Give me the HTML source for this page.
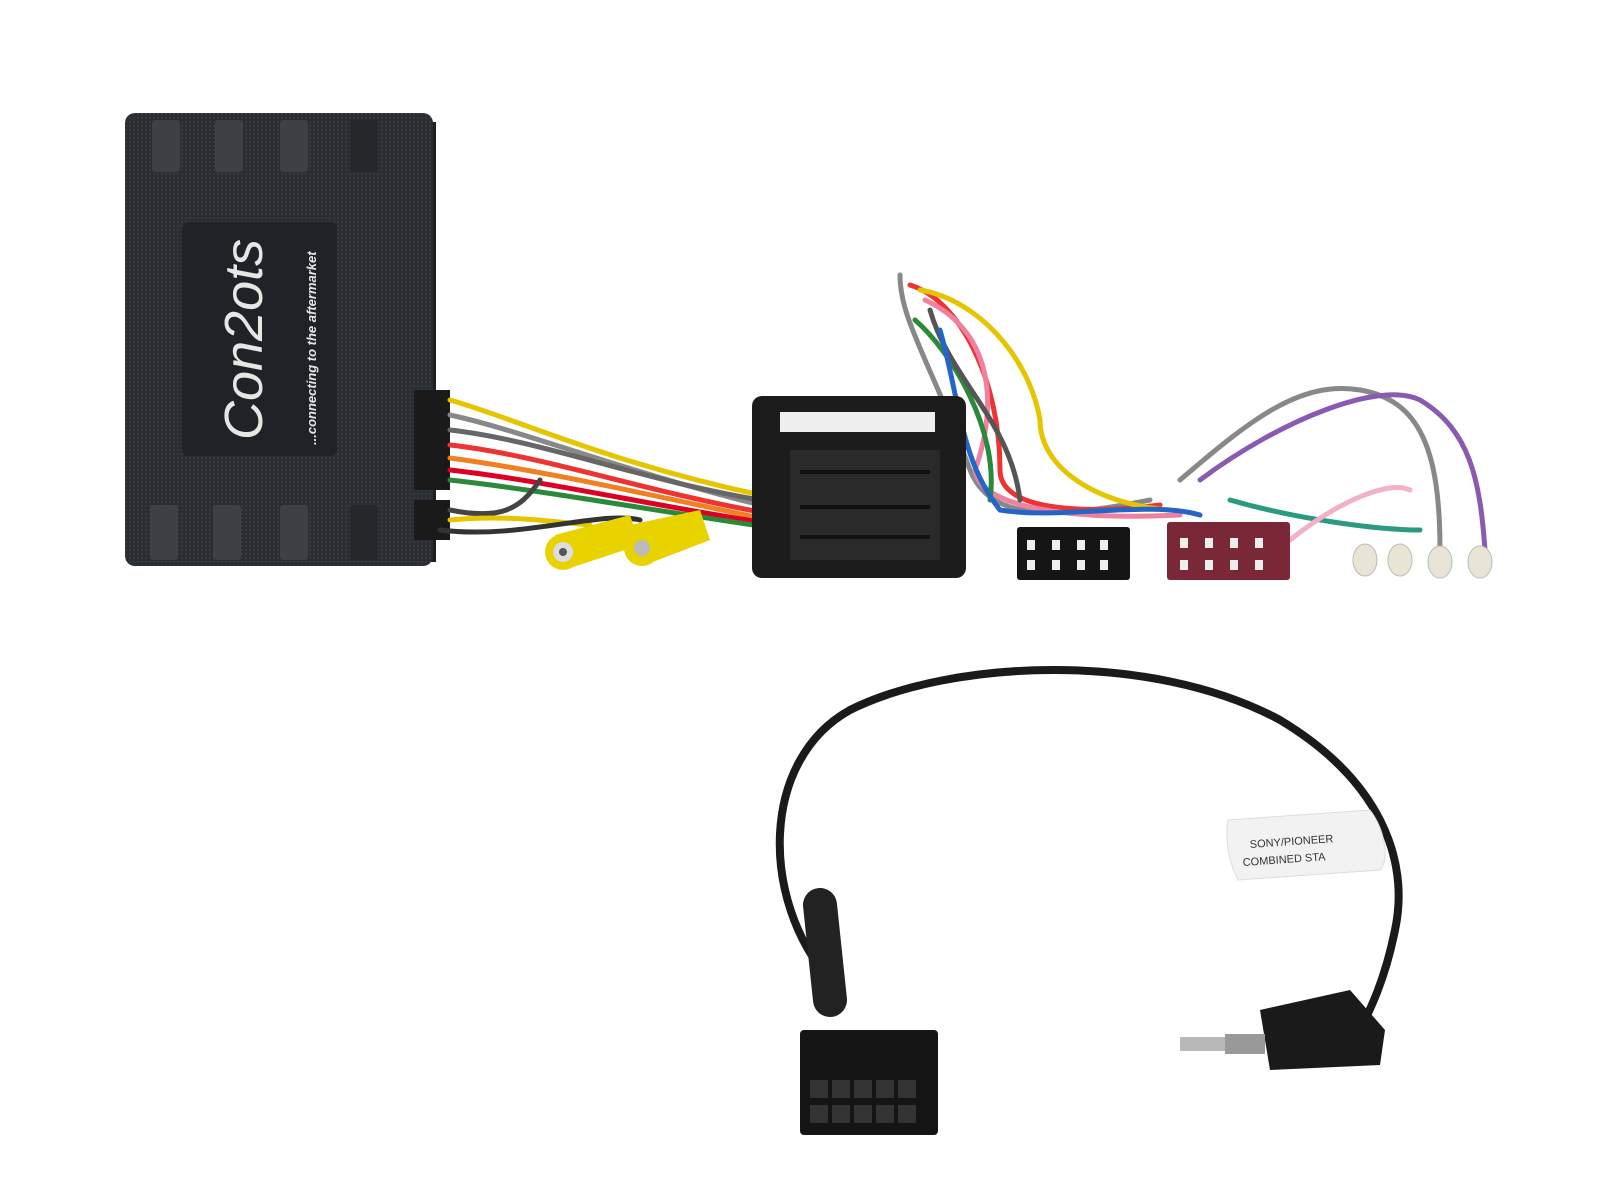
<!DOCTYPE html>
<html><head><meta charset="utf-8"><style>
html,body{margin:0;padding:0;background:#fff;width:1600px;height:1200px;overflow:hidden}
svg{display:block}
text{font-family:"Liberation Sans",sans-serif}
</style></head><body>
<svg width="1600" height="1200" viewBox="0 0 1600 1200" xmlns="http://www.w3.org/2000/svg">
<defs>
<pattern id="tex" width="4" height="4" patternUnits="userSpaceOnUse">
<rect width="4" height="4" fill="#2a2d31"/><circle cx="2" cy="2" r="1" fill="#3a3e43"/>
</pattern>
</defs>
<rect x="424" y="122" width="12" height="440" fill="#1d1f22"/>
<rect x="125" y="113" width="308" height="453" rx="10" fill="url(#tex)"/>
<g fill="#3d4146">
<rect x="152" y="120" width="28" height="52" rx="3"/><rect x="215" y="120" width="28" height="52" rx="3"/><rect x="280" y="120" width="28" height="52" rx="3"/><rect x="350" y="120" width="28" height="52" rx="3" fill="#25282b"/>
<rect x="150" y="505" width="28" height="55" rx="3"/><rect x="213" y="505" width="28" height="55" rx="3"/><rect x="280" y="505" width="28" height="55" rx="3"/><rect x="350" y="505" width="28" height="55" rx="3" fill="#25282b"/>
</g>
<rect x="182" y="222" width="155" height="234" rx="6" fill="#1f2226"/>
<text transform="translate(262,440) rotate(-90)" font-family="Liberation Serif,serif" font-style="italic" font-size="54" fill="#e6e6e6">Con2ots</text>
<text transform="translate(316,445) rotate(-90)" font-family="Liberation Serif,serif" font-style="italic" font-weight="bold" font-size="13" fill="#e6e6e6">...connecting to the aftermarket</text>
<rect x="414" y="390" width="36" height="100" fill="#1a1a1a"/>
<rect x="414" y="500" width="36" height="40" fill="#1a1a1a"/>
<g fill="none" stroke-width="5" stroke-linecap="round">
<path d="M450 400 C520 420 600 460 760 495" stroke="#e6c400"/>
<path d="M450 415 C520 430 620 470 760 505" stroke="#888"/>
<path d="M450 430 C540 440 640 480 760 500" stroke="#666"/>
<path d="M450 445 C540 455 640 490 760 512" stroke="#e33"/>
<path d="M450 458 C540 470 650 495 760 518" stroke="#f08020"/>
<path d="M450 470 C540 480 650 505 760 522" stroke="#d02"/>
<path d="M450 480 C540 490 650 510 760 526" stroke="#2a8a3a"/>
<path d="M450 510 C500 520 520 510 540 480" stroke="#444"/>
<path d="M450 520 C500 515 540 520 590 525" stroke="#e6c400"/>
<path d="M440 530 C520 540 600 510 640 520" stroke="#333"/>
<path d="M900 275 C900 320 930 360 970 470 C990 520 1050 520 1150 500" stroke="#888"/>
<path d="M910 285 C960 300 1000 380 1000 470 C1000 510 1080 515 1160 505" stroke="#e33"/>
<path d="M920 290 C980 300 1030 360 1040 420 C1040 470 1100 505 1170 510" stroke="#e6c400"/>
<path d="M925 300 C990 330 1000 400 975 470 C980 510 1080 520 1180 515" stroke="#f080a0"/>
<path d="M915 320 C950 350 1000 430 990 500" stroke="#2a8a3a"/>
<path d="M930 310 C950 380 1010 420 1020 500" stroke="#555"/>
<path d="M940 330 C960 400 960 460 1000 510 C1060 520 1150 500 1200 515" stroke="#2466c8"/>
<path d="M1180 480 C1250 420 1300 380 1360 390 C1420 400 1440 450 1440 550" stroke="#888"/>
<path d="M1200 480 C1280 420 1380 380 1420 400 C1470 430 1480 480 1485 550" stroke="#8a5ab0"/>
<path d="M1230 500 C1300 520 1380 530 1420 530" stroke="#2a9a80"/>
<path d="M1290 540 C1340 500 1390 480 1410 490" stroke="#f4b0c8"/>
</g>
<g>
<polygon points="555,535 630,515 640,545 570,568" fill="#e8d200"/>
<polygon points="630,525 700,510 710,540 645,565" fill="#e8d200"/>
<circle cx="563" cy="552" r="18" fill="#e8d200"/><circle cx="563" cy="552" r="10" fill="#ddd"/><circle cx="563" cy="552" r="4" fill="#555"/>
<circle cx="642" cy="548" r="18" fill="#e8d200"/><circle cx="642" cy="548" r="8" fill="#bbb"/>
</g>
<rect x="752" y="396" width="214" height="182" rx="10" fill="#1c1c1c"/>
<rect x="780" y="412" width="155" height="20" fill="#eee"/>
<rect x="790" y="450" width="150" height="110" fill="#2a2a2a"/>
<g fill="#111"><rect x="800" y="470" width="130" height="4"/><rect x="800" y="505" width="130" height="4"/><rect x="800" y="535" width="130" height="4"/></g>
<rect x="1017" y="527" width="113" height="53" rx="3" fill="#151515"/>
<g fill="#eee"><rect x="1027" y="540" width="8" height="10"/><rect x="1052" y="540" width="8" height="10"/><rect x="1077" y="540" width="8" height="10"/><rect x="1100" y="540" width="8" height="10"/>
<rect x="1027" y="560" width="8" height="10"/><rect x="1052" y="560" width="8" height="10"/><rect x="1077" y="560" width="8" height="10"/><rect x="1100" y="560" width="8" height="10"/></g>
<rect x="1167" y="522" width="123" height="58" rx="3" fill="#7a2838"/>
<g fill="#eee"><rect x="1180" y="538" width="8" height="10"/><rect x="1205" y="538" width="8" height="10"/><rect x="1230" y="538" width="8" height="10"/><rect x="1255" y="538" width="8" height="10"/>
<rect x="1180" y="560" width="8" height="10"/><rect x="1205" y="560" width="8" height="10"/><rect x="1230" y="560" width="8" height="10"/><rect x="1255" y="560" width="8" height="10"/></g>
<g fill="#e8e4d6" stroke="#bbb"><ellipse cx="1365" cy="560" rx="12" ry="16"/><ellipse cx="1400" cy="560" rx="12" ry="16"/><ellipse cx="1440" cy="562" rx="12" ry="16"/><ellipse cx="1480" cy="562" rx="12" ry="16"/></g>
<path d="M830 980 C760 900 760 760 850 710 C950 660 1150 650 1280 720 C1380 780 1410 860 1395 930 C1385 980 1370 1010 1360 1030" fill="none" stroke="#1a1a1a" stroke-width="8"/>
<path d="M820 905 L830 1000" stroke="#222" stroke-width="34" stroke-linecap="round"/>
<rect x="800" y="1030" width="138" height="105" rx="4" fill="#151515"/>
<g fill="#333"><rect x="810" y="1080" width="18" height="18"/><rect x="832" y="1080" width="18" height="18"/><rect x="854" y="1080" width="18" height="18"/><rect x="876" y="1080" width="18" height="18"/><rect x="898" y="1080" width="18" height="18"/>
<rect x="810" y="1105" width="18" height="18"/><rect x="832" y="1105" width="18" height="18"/><rect x="854" y="1105" width="18" height="18"/><rect x="876" y="1105" width="18" height="18"/><rect x="898" y="1105" width="18" height="18"/></g>
<polygon points="1260,1010 1350,990 1385,1030 1380,1065 1270,1070" fill="#1a1a1a"/>
<rect x="1180" y="1037" width="85" height="14" fill="#b8b8b8"/>
<rect x="1225" y="1034" width="40" height="20" fill="#999"/>
<path d="M1228 820 L1370 810 C1385 830 1390 860 1380 870 L1238 880 C1228 860 1225 840 1228 820Z" fill="#f2f2f2" stroke="#ddd"/>
<text x="1250" y="848" font-size="11" fill="#333" transform="rotate(-4 1250 848)">SONY/PIONEER</text>
<text x="1243" y="866" font-size="11" fill="#333" transform="rotate(-4 1243 866)">COMBINED STA</text>
</svg>
</body></html>
